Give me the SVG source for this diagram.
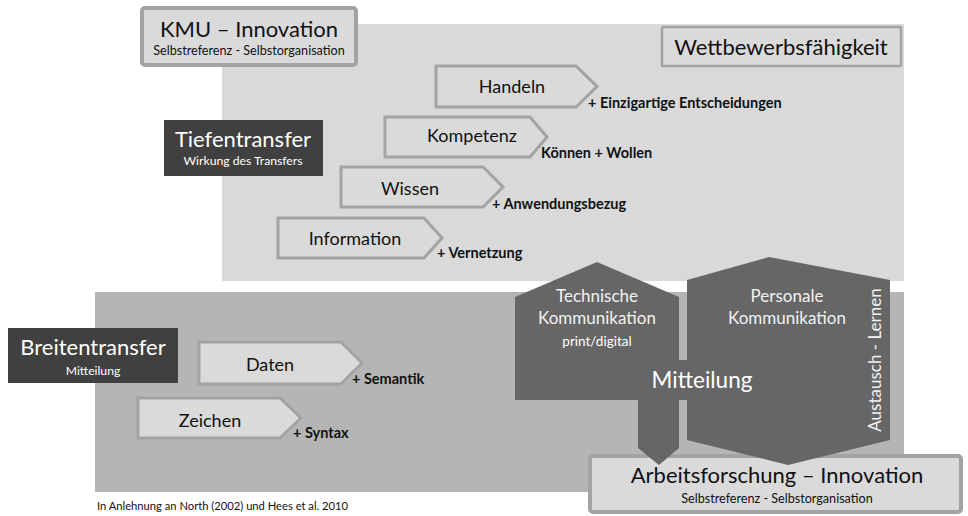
<svg xmlns="http://www.w3.org/2000/svg" width="968" height="516" viewBox="0 0 968 516">
<defs>
<style>
text{font-family:Lato,"Open Sans","Liberation Sans",sans-serif;}
.lbox{fill:#dadada;stroke:#a3a3a3;stroke-width:4;}
.arrow{fill:#dadada;stroke:#a3a3a3;stroke-width:3;}
.dbox{fill:#404040;}
.shape{fill:#666666;}
.t22{font-size:22px;fill:#111;text-anchor:middle;}
.t18{font-size:18px;fill:#111;text-anchor:middle;}
.sub{font-size:12.6px;fill:#111;text-anchor:middle;}
.w22{font-size:22px;fill:#fff;text-anchor:middle;}
.wsub{font-size:12.2px;fill:#fff;text-anchor:middle;}
.w16{font-size:17px;fill:#f2f2f2;text-anchor:middle;}
.lab{font-size:14.5px;font-weight:bold;fill:#111;}
</style>
</defs>
<rect width="968" height="516" fill="#ffffff"/>
<g id="panel-tiefe"><rect x="222" y="24" width="682" height="257" fill="#d9d9d9"/></g>
<g id="panel-breite"><rect x="95" y="292" width="809" height="200" fill="#b5b5b5"/></g>

<g id="kmu"><rect class="lbox" x="142" y="8" width="214" height="57" rx="3"/>
<text class="t22" x="249" y="37">KMU – Innovation</text>
<text class="sub" x="249" y="55">Selbstreferenz - Selbstorganisation</text></g>

<g id="wettbewerb"><rect x="662" y="27" width="239" height="39" fill="#dadada" stroke="#a3a3a3" stroke-width="2.5" rx="1"/>
<text class="t22" x="781" y="55">Wettbewerbsfähigkeit</text></g>

<g id="tiefentransfer"><rect class="dbox" x="164" y="120" width="159" height="56"/>
<text class="w22" x="243" y="147">Tiefentransfer</text>
<text class="wsub" x="243" y="165">Wirkung des Transfers</text></g>

<g id="handeln"><polygon class="arrow" points="436,66 576,66 597,86.5 576,107 436,107"/>
<text class="t18" x="512" y="93">Handeln</text>
<text class="lab" x="588" y="108">+ Einzigartige Entscheidungen</text></g>

<g id="kompetenz"><polygon class="arrow" points="385,117 530,117 547,137 530,157 385,157"/>
<text class="t18" x="472" y="142">Kompetenz</text>
<text class="lab" x="541" y="158">Können + Wollen</text></g>

<g id="wissen"><polygon class="arrow" points="341,167 483,167 503,187 483,207 341,207"/>
<text class="t18" x="410" y="195">Wissen</text>
<text class="lab" x="492" y="209">+ Anwendungsbezug</text></g>

<g id="information"><polygon class="arrow" points="278,218 424,218 442,238 424,258 278,258"/>
<text class="t18" x="355" y="245">Information</text>
<text class="lab" x="437" y="258">+ Vernetzung</text></g>

<g id="breitentransfer"><rect class="dbox" x="8" y="328" width="170" height="55"/>
<text class="w22" x="93" y="355">Breitentransfer</text>
<text class="wsub" x="93" y="375">Mitteilung</text></g>

<g id="daten"><polygon class="arrow" points="199,342 341,342 362,363 341,384 199,384"/>
<text class="t18" x="270" y="371">Daten</text>
<text class="lab" x="352" y="384">+ Semantik</text></g>

<g id="zeichen"><polygon class="arrow" points="138,398 280,398 301,418 280,438 138,438"/>
<text class="t18" x="210" y="427">Zeichen</text>
<text class="lab" x="293" y="438">+ Syntax</text></g>

<g id="arbeitsforschung"><rect class="lbox" x="590" y="456" width="371" height="56" rx="3"/>
<text class="t22" x="777" y="483">Arbeitsforschung – Innovation</text>
<text class="sub" x="777" y="503">Selbstreferenz - Selbstorganisation</text></g>

<g id="technische-kommunikation"><path class="shape" d="M515,297 L597,262 L679,297 L679,448 L659,465 L638,448 L638,400 L515,400 Z"/>
<text class="w16" x="597" y="302">Technische</text>
<text class="w16" x="597" y="324">Kommunikation</text>
<text class="wsub" x="597" y="346" style="font-size:13.5px">print/digital</text></g>

<g id="personale-kommunikation"><polygon class="shape" points="687,280 769,257 890,280 890,440 788,465 687,440"/>
<text class="w16" x="787" y="302">Personale</text>
<text class="w16" x="787" y="324">Kommunikation</text>
<text class="w16" transform="translate(881,360) rotate(-90)" x="0" y="0">Austausch - Lernen</text></g>

<g id="mitteilung"><rect class="shape" x="515" y="360" width="180" height="40"/>
<text x="702" y="388" style="font-size:22.5px;fill:#fff;text-anchor:middle">Mitteilung</text></g>

<g id="connectors"></g>

<text x="97" y="510" style="font-size:11.2px;fill:#111">In Anlehnung an North (2002) und Hees et al. 2010</text>
</svg>
